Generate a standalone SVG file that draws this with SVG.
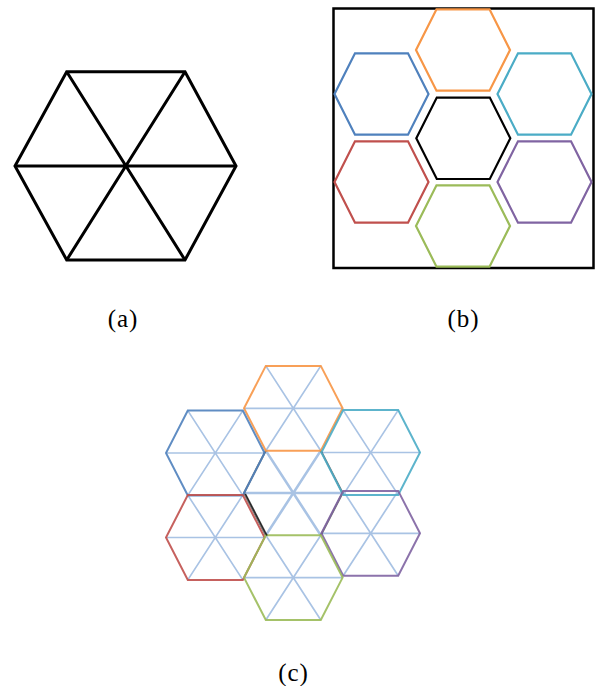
<svg xmlns="http://www.w3.org/2000/svg" xmlns:xlink="http://www.w3.org/1999/xlink" width="595" height="686" viewBox="0 0 595 686">
  <style>
    .lbl { font-family: "Liberation Serif", "Times New Roman", serif; font-size: 25px; fill: #000; text-anchor: middle; letter-spacing: 1px; }
    .hb { fill: none; stroke-width: 2.2; stroke-linejoin: miter; }
    .hc { fill: none; stroke-width: 2; stroke-linejoin: miter; stroke-opacity: 0.9; }
    .tri { fill: none; stroke: #a9c3e4; stroke-width: 1.7; }
    .blue { stroke: #4f81bd; }
    .orange { stroke: #f79646; }
    .cyan { stroke: #4bacc6; }
    .red { stroke: #c0504d; }
    .purple { stroke: #8064a2; }
    .green { stroke: #9bbb59; }
    .black { stroke: #000; }
  </style>
  <defs>
    <path id="hexB" d="M-26.5,-40.7 L26.5,-40.7 L47,0 L26.5,40.7 L-26.5,40.7 L-47,0 Z"/>
    <path id="hexC" d="M-27.5,-42.4 L27.5,-42.4 L49.3,0 L27.5,42.4 L-27.5,42.4 L-49.3,0 Z"/>
    <path id="triC" d="M-49.3,0 H49.3 M-27.5,-42.4 L27.5,42.4 M27.5,-42.4 L-27.5,42.4"/>
  </defs>
  <rect width="595" height="686" fill="#fff"/>

  <!-- (a) -->
  <g id="hex-a" fill="none" stroke="#000" stroke-width="3" stroke-linejoin="miter">
    <path d="M66.7,71.7 L185,71.7 L236,166 L185,260 L66.7,260 L15,166 Z"/>
    <path d="M15,166 L236,166 M66.7,71.7 L185,260 M185,71.7 L66.7,260"/>
  </g>
  <text id="label-a" class="lbl" x="123" y="327">(a)</text>

  <!-- (b) -->
  <g id="panel-b">
    <rect id="frame-b" x="333.5" y="8.5" width="260" height="259.5" fill="none" stroke="#000" stroke-width="2.5"/>
    <g id="b-orange"><use xlink:href="#hexB" href="#hexB" class="hb orange" transform="translate(463,50)"/></g>
    <g id="b-blue"><use xlink:href="#hexB" href="#hexB" class="hb blue" transform="translate(381.5,94)"/></g>
    <g id="b-cyan"><use xlink:href="#hexB" href="#hexB" class="hb cyan" transform="translate(544.5,94)"/></g>
    <g id="b-black"><use xlink:href="#hexB" href="#hexB" class="hb black" transform="translate(463.3,138.3)"/></g>
    <g id="b-red"><use xlink:href="#hexB" href="#hexB" class="hb red" transform="translate(381.5,182)"/></g>
    <g id="b-purple"><use xlink:href="#hexB" href="#hexB" class="hb purple" transform="translate(544.5,182)"/></g>
    <g id="b-green"><use xlink:href="#hexB" href="#hexB" class="hb green" transform="translate(463,226)"/></g>
  </g>
  <text id="label-b" class="lbl" x="463.5" y="327">(b)</text>

  <!-- (c) -->
  <g id="panel-c">
    <g id="c-triangles">
      <use xlink:href="#triC" href="#triC" class="tri" transform="translate(293.3,408.3)"/>
      <use xlink:href="#triC" href="#triC" class="tri" transform="translate(215.3,453)"/>
      <use xlink:href="#triC" href="#triC" class="tri" transform="translate(370.7,452.5)"/>
      <use xlink:href="#triC" href="#triC" class="tri" transform="translate(293.3,493)" style="stroke-width:2.6"/>
      <use xlink:href="#triC" href="#triC" class="tri" transform="translate(215.3,537.5)"/>
      <use xlink:href="#triC" href="#triC" class="tri" transform="translate(370.7,533.3)"/>
      <use xlink:href="#triC" href="#triC" class="tri" transform="translate(293.3,577.6)"/>
    </g>
    <g id="c-middle" fill="none" stroke="#000" stroke-width="2" stroke-opacity="0.55">
      <path d="M265.8,450.6 L244,493 L265.8,535.4 M320.8,450.6 L342.6,493 L320.8,535.4"/>
    </g>
    <g id="c-orange"><use xlink:href="#hexC" href="#hexC" class="hc orange" transform="translate(293.3,408.3)"/></g>
    <g id="c-blue"><use xlink:href="#hexC" href="#hexC" class="hc blue" transform="translate(215.3,453)"/></g>
    <g id="c-cyan"><use xlink:href="#hexC" href="#hexC" class="hc cyan" transform="translate(370.7,452.5)"/></g>
    <g id="c-red"><use xlink:href="#hexC" href="#hexC" class="hc red" transform="translate(215.3,537.5)"/></g>
    <g id="c-purple"><use xlink:href="#hexC" href="#hexC" class="hc purple" transform="translate(370.7,533.3)"/></g>
    <g id="c-green"><use xlink:href="#hexC" href="#hexC" class="hc green" transform="translate(293.3,577.6)"/></g>
    <path id="c-middle-edge" d="M245.5,494 L267,535.5" fill="none" stroke="#000" stroke-width="1.6" stroke-opacity="0.75"/>
  </g>
  <text id="label-c" class="lbl" x="293.5" y="681">(c)</text>
</svg>
